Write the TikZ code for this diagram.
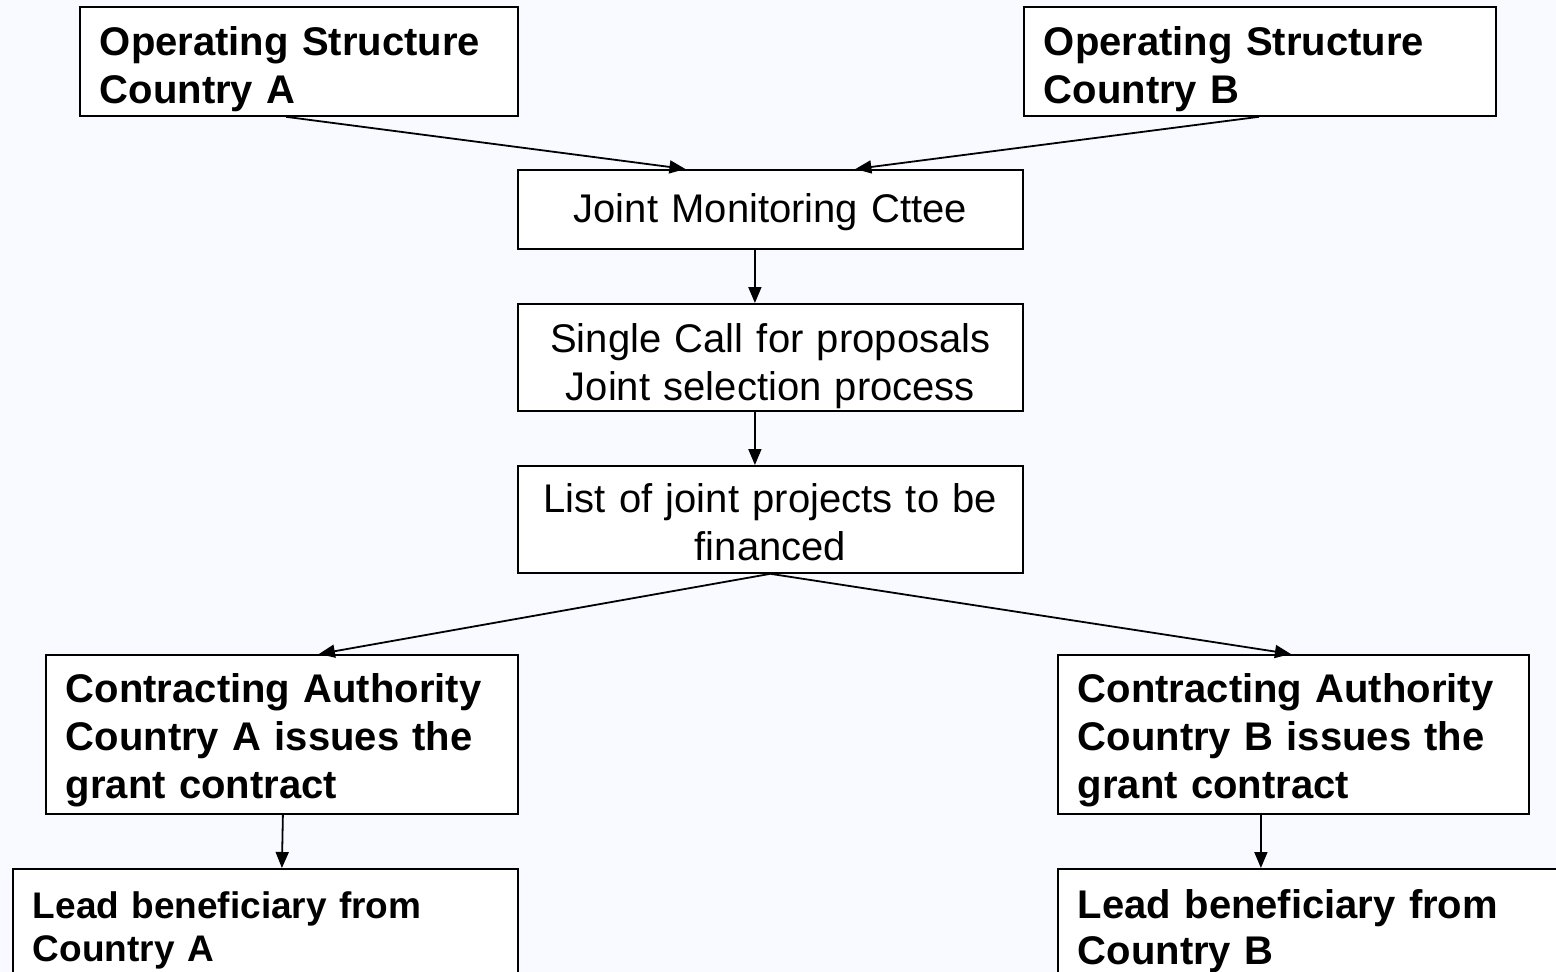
\documentclass[tikz,border=0pt]{standalone}
\usepackage{fontspec}
\setmainfont{Liberation Sans}
\usetikzlibrary{arrows.meta}
\definecolor{bgcol}{RGB}{248,250,255}
\tikzset{
  box/.style={draw=black, line width=1.8pt, fill=white, inner xsep=20pt, inner ysep=0pt, anchor=north west},
  bigb/.style={font=\fontsize{40}{48}\selectfont\bfseries, align=left},
  bigr/.style={font=\fontsize{40}{48}\selectfont, align=center},
  smallb/.style={font=\fontsize{37}{42.5}\selectfont\bfseries, align=left},
  lbbfont/.style={font=\fontsize{40}{46}\selectfont\bfseries, align=left},
  arr/.style={line width=1.8pt, -{Triangle[length=16pt,width=13pt]}}
}
\begin{document}
\begin{tikzpicture}[x=1pt,y=-1pt]
\fill[bgcol] (0,0) rectangle (1556,972);
\useasboundingbox (0,0) rectangle (1556,972);

\node[box,bigb,text width=398pt,text height=49pt,text depth=60pt] (osa) at (79,6) {Operating Structure\\Country A};
\node[box,bigb,text width=432pt,text height=49pt,text depth=60pt] (osb) at (1023,6) {Operating Structure\\Country B};
\node[box,bigr,text width=465pt,text height=53pt,text depth=26pt] (jmc) at (517,169) {Joint Monitoring Cttee};
\node[box,bigr,text width=465pt,text height=49pt,text depth=58pt] (scp) at (517,303) {Single Call for proposals\\Joint selection process};
\node[box,bigr,text width=465pt,text height=47pt,text depth=60pt] (ljp) at (517,465) {List of joint projects to be\\financed};
\node[box,bigb,text width=432pt,text height=48pt,text depth=111pt] (caa) at (45,654) {Contracting Authority\\Country A issues the\\grant contract};
\node[box,bigb,text width=431pt,text height=48pt,text depth=111pt] (cab) at (1057,654) {Contracting Authority\\Country B issues the\\grant contract};
\node[box,smallb,text width=465pt,text height=50pt,text depth=120pt] (lba) at (12,868) {Lead beneficiary from\\Country A};
\node[box,lbbfont,text width=465pt,text height=50pt,text depth=120pt] (lbb) at (1057,868) {Lead beneficiary from\\Country B};

\draw[arr] ([xshift=-13pt]osa.south) -- ([xshift=-85pt]jmc.north);
\draw[arr] ([xshift=-1pt]osb.south) -- ([xshift=85pt]jmc.north);
\draw[arr] ([xshift=-15.5pt]jmc.south) -- ([xshift=-15.5pt]scp.north);
\draw[arr] ([xshift=-15.5pt]scp.south) -- ([xshift=-15.5pt]ljp.north);
\draw[arr] (ljp.south) -- ([xshift=37pt]caa.north);
\draw[arr] (ljp.south) -- ([xshift=-2.5pt]cab.north);
\draw[arr] ([xshift=1pt]caa.south) -- (caa.south |- lba.north);
\draw[arr] ([xshift=-32.5pt]cab.south) -- ([xshift=-32.5pt]cab.south |- lbb.north);
\end{tikzpicture}
\end{document}
